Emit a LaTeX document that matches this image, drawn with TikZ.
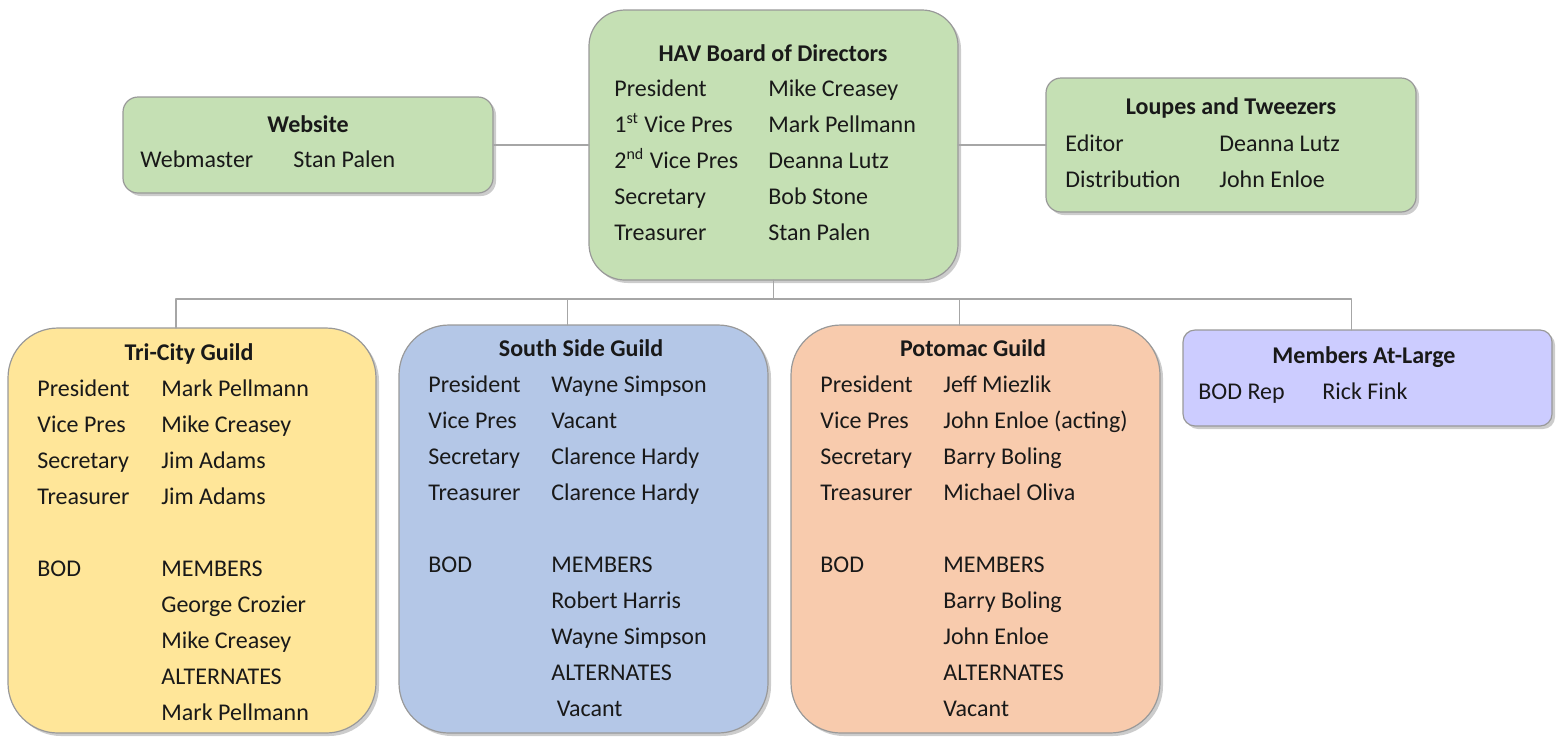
\documentclass[tikz,border=0pt]{standalone}
\usepackage{fontspec}
\setmainfont{Carlito}
\usetikzlibrary{shadows}
\definecolor{boxgreen}{HTML}{C5E0B4}
\definecolor{boxyellow}{HTML}{FFE699}
\definecolor{boxblue}{HTML}{B4C7E7}
\definecolor{boxorange}{HTML}{F8CBAD}
\definecolor{boxlilac}{HTML}{CCCCFF}
\definecolor{linegray}{HTML}{A6A6A6}
\begin{document}
\begin{tikzpicture}[x=0.5pt, y=-0.5pt, font=\fontsize{12}{14}\selectfont, line join=round, line cap=round,
	box/.style={draw=black!40, line width=0.6pt, inner sep=0pt, outer sep=0pt, drop shadow={shadow xshift=1.5pt, shadow yshift=-1.5pt, opacity=0.4}},
	title/.style={anchor=base, inner sep=0pt, text=black!90, font=\fontsize{12}{14}\selectfont\bfseries},
	cell/.style={anchor=base west, inner sep=0pt, text=black!90},
	link/.style={draw=linegray, line width=0.6pt}]
					\useasboundingbox (0,0) rectangle (1556,736);
					\coordinate (bus) at (773,299);
					\node[box, fill=boxgreen, rounded corners=7.5pt, minimum width=185pt, minimum height=48pt] (web) at (308,145) {};
					\node[box, fill=boxgreen, rounded corners=18pt, minimum width=184.5pt, minimum height=135pt] (bod) at (773.5,145) {};
					\node[box, fill=boxgreen, rounded corners=7.5pt, minimum width=185pt, minimum height=67pt] (lt) at (1231,145) {};
					\node[box, fill=boxyellow, rounded corners=25pt, minimum width=184pt, minimum height=202.5pt] (tri) at (192,530.5) {};
					\node[box, fill=boxblue, rounded corners=25pt, minimum width=184.5pt, minimum height=204pt] (south) at (583.5,529) {};
					\node[box, fill=boxorange, rounded corners=25pt, minimum width=184.5pt, minimum height=204pt] (pot) at (975.5,529) {};
					\node[box, fill=boxlilac, rounded corners=6pt, minimum width=184.5pt, minimum height=48pt] (mal) at (1367.5,378) {};
					\draw[link] (web.east) -- (bod.west);
					\draw[link] (bod.east) -- (lt.west);
					\draw[link] (bod.south) -- (bod.south |- bus);
					\draw[link] ([xshift=-8pt]tri.north) |- ([xshift=-8pt]mal.north |- bus) -- ([xshift=-8pt]mal.north);
					\draw[link] ([xshift=-8pt]south.north) -- ([xshift=-8pt]south.north |- bus);
					\draw[link] ([xshift=-8pt]pot.north) -- ([xshift=-8pt]pot.north |- bus);
					\node[title] (web-t) at (308,132) {Website};
					\node[cell] (web-a) at (140,167) {Webmaster};
					\node[cell] (web-b) at (293,167) {Stan Palen};
					\node[title] (bod-t) at (773,61) {HAV Board of Directors};
					\foreach \y/\a/\b [count=\i] in {96/President/Mike Creasey, 132/1\textsuperscript{st} Vice Pres/Mark Pellmann, 168/2\textsuperscript{nd} Vice Pres/Deanna Lutz, 204/Secretary/Bob Stone, 240/Treasurer/Stan Palen}{
						\node[cell] (bod-a\i) at (614,\y) {\a};
						\node[cell] (bod-b\i) at (768,\y) {\b};
					}
					\node[title] (lt-t) at (1231,114) {Loupes and Tweezers};
					\foreach \y/\a/\b [count=\i] in {151/Editor/Deanna Lutz, 187/Distribution/John Enloe}{
						\node[cell] (lt-a\i) at (1065,\y) {\a};
						\node[cell] (lt-b\i) at (1219,\y) {\b};
					}
					\node[title] (mal-t) at (1364,363) {Members At-Large};
					\node[cell] (mal-a) at (1198,399) {BOD Rep};
					\node[cell] (mal-b) at (1322,399) {Rick Fink};
					\node[title] (tri-t) at (189,360) {Tri-City Guild};
					\foreach \y/\a [count=\i] in {396/President, 432/Vice Pres, 468/Secretary, 504/Treasurer, 576/BOD}
						\node[cell] (tri-a\i) at (37,\y) {\a};
					\foreach \y/\b [count=\i] in {396/Mark Pellmann, 432/Mike Creasey, 468/Jim Adams, 504/Jim Adams, 576/MEMBERS, 612/George Crozier, 648/Mike Creasey, 684/ALTERNATES, 720/Mark Pellmann}
						\node[cell] (tri-b\i) at (161,\y) {\b};
					\node[title] (south-t) at (581,356) {South Side Guild};
					\foreach \y/\a [count=\i] in {392/President, 428/Vice Pres, 464/Secretary, 500/Treasurer, 572/BOD}
						\node[cell] (south-a\i) at (428,\y) {\a};
					\foreach \y/\b [count=\i] in {392/Wayne Simpson, 428/Vacant, 464/Clarence Hardy, 500/Clarence Hardy, 572/MEMBERS, 608/Robert Harris, 644/Wayne Simpson, 680/ALTERNATES, 716/\ Vacant}
						\node[cell] (south-b\i) at (551,\y) {\b};
					\node[title] (pot-t) at (973,356) {Potomac Guild};
					\foreach \y/\a [count=\i] in {392/President, 428/Vice Pres, 464/Secretary, 500/Treasurer, 572/BOD}
						\node[cell] (pot-a\i) at (820,\y) {\a};
					\foreach \y/\b [count=\i] in {392/Jeff Miezlik, 428/John Enloe (acting), 464/Barry Boling, 500/Michael Oliva, 572/MEMBERS, 608/Barry Boling, 644/John Enloe, 680/ALTERNATES, 716/Vacant}
						\node[cell] (pot-b\i) at (943,\y) {\b};
				\end{tikzpicture}
\end{document}
